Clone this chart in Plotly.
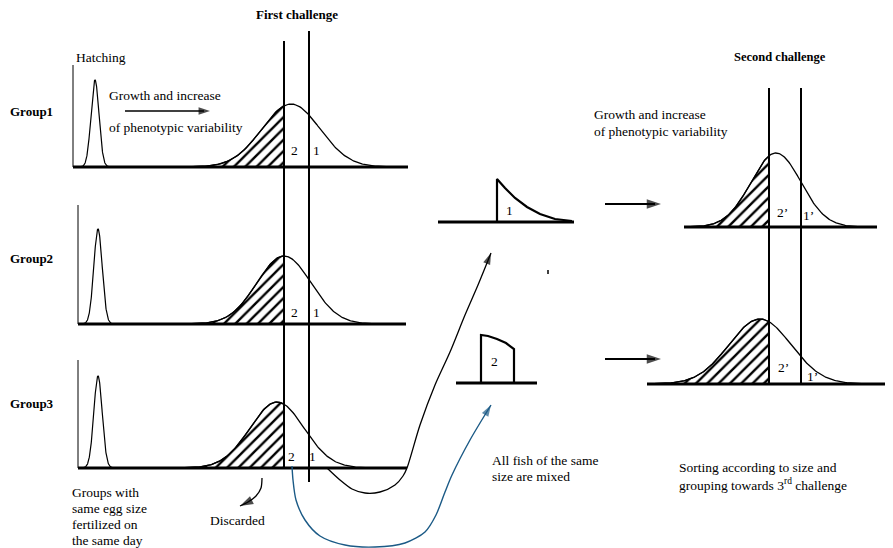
import numpy as np
import plotly.graph_objects as go

W, H = 893, 548
FONT = "Liberation Serif, Times New Roman, serif"
PAGE_OFFSET = 8  # browser body margin

# ---- panel data (left: three groups) ----
group_names = ["Group1", "Group2", "Group3"]
group_label_y = [111, 258, 403]
axis_x = [73, 78, 78]
axis_top = [65, 205, 360]
baseline_y = [167, 324, 468]
baseline_end = [408, 406, 407]
hatch_center = [95, 98, 98]
hatch_peak = [80, 229, 376]
hatch_sigma = [4.0, 4.2, 4.2]
main_center = [291, 284, 277]
main_peak = [104, 256, 402]
main_sigma = [29, 27, 27]
cut1_x = 284
cut2_x = 309
label2_pos = [(294, 150), (294, 312), (291, 456)]
label1_pos = [(316, 150), (316, 312), (312, 456)]

# ---- right panels (second challenge) ----
r_base_y = [227, 384]
r_base_x0 = [684, 647]
r_base_x1 = [877, 893]
r_center = [776, 760]
r_peak = [153, 319]
r_sigma = [25, 31]
r_cut1 = 769
r_cut2 = 801
r_lab2 = [(782, 212), (783, 367)]
r_lab1 = [(808, 215), (812, 376)]

# ---- middle sorted shapes ----
s1_base = (438, 574, 222)
s1_x = [497, 497, 505, 515, 527, 540, 555, 572]
s1_y = [222, 179, 188, 198, 207, 214, 219, 221]
s2_base = (456, 537, 383)
s2_x = [481, 481, 488, 497, 506, 514, 514]
s2_y = [383, 335, 336, 339, 343, 349, 383]

# ---- connecting arrows ----
black_x = [327, 340, 352, 365, 380, 395, 403, 407, 420, 435, 450, 465, 478, 491]
black_y = [468, 480, 489, 493, 492, 485, 476, 468, 425, 385, 352, 315, 285, 253]
blue_x = [292, 293, 296, 305, 320, 345, 375, 405, 425, 436, 445, 452, 470, 491]
blue_y = [466, 480, 500, 520, 536, 545, 547, 543, 532, 515, 492, 475, 440, 405]
disc_x = [262, 261, 256, 248, 240]
disc_y = [478, 488, 496, 502, 506]
growth_arrow = (125, 210, 111)
sort_arrows = [(605, 661, 204), (605, 661, 359)]

fig = go.Figure()


def line(xs, ys, w=1.2, color="black", smooth=False):
    ln = dict(color=color, width=w)
    if smooth:
        ln.update(shape="spline", smoothing=0.8)
    fig.add_trace(go.Scatter(x=list(xs), y=list(ys), mode="lines",
                             line=ln, hoverinfo="skip", showlegend=False))


def gauss(c, peak, base, s, n=200):
    xs = np.linspace(c - 3.6 * s, c + 3.6 * s, n)
    ys = base - (base - peak) * np.exp(-((xs - c) ** 2) / (2 * s * s))
    return xs, ys


def hatch(c, peak, base, s, cut):
    xs = np.linspace(c - 3.6 * s, cut, 150)
    ys = base - (base - peak) * np.exp(-((xs - c) ** 2) / (2 * s * s))
    px = list(xs) + [cut, xs[0]]
    py = list(ys) + [base, base]
    fig.add_trace(go.Scatter(x=px, y=py, mode="lines", fill="toself",
                             fillcolor="white",
                             fillpattern=dict(shape="/", fgcolor="black", bgcolor="white",
                                              size=8, solidity=0.3, fgopacity=1),
                             line=dict(color="black", width=1.3), hoverinfo="skip",
                             showlegend=False))


def arrowhead(xs, ys, color="black", size=11):
    fig.add_trace(go.Scatter(x=[xs[-2], xs[-1]], y=[ys[-2], ys[-1]], mode="markers",
                             marker=dict(symbol="arrow", angleref="previous",
                                         size=[0, size], color=color,
                                         line=dict(width=0)),
                             hoverinfo="skip", showlegend=False))


def straight_arrow(x0, x1, y, w=1.6, size=12):
    xs = [x0, x1 - 6, x1]
    ys = [y, y, y]
    line(xs[:2], ys[:2], w)
    arrowhead(xs[1:], ys[1:], size=size)


# left groups
for i in range(3):
    b = baseline_y[i]
    hatch(main_center[i], main_peak[i], b, main_sigma[i], cut1_x)
    gx, gy = gauss(main_center[i], main_peak[i], b, main_sigma[i])
    line(gx, gy, 1.3)
    hx, hy = gauss(hatch_center[i], hatch_peak[i], b, hatch_sigma[i])
    line(hx, hy, 1.2)
    line([axis_x[i], axis_x[i]], [axis_top[i], b], 1.0)
    line([axis_x[i], baseline_end[i]], [b, b], 2.8)

# first challenge cut lines
line([cut1_x, cut1_x], [41, baseline_y[2]], 2.0)
line([cut2_x, cut2_x], [31, 482], 2.0)

# right panels
for j in range(2):
    b = r_base_y[j]
    hatch(r_center[j], r_peak[j], b, r_sigma[j], r_cut1)
    gx, gy = gauss(r_center[j], r_peak[j], b, r_sigma[j])
    line(gx, gy, 1.3)
    line([r_base_x0[j], r_base_x1[j]], [b, b], 2.8)
line([r_cut1, r_cut1], [88, 384], 2.0)
line([r_cut2, r_cut2], [88, 384], 2.0)

# middle shapes
line([s1_base[0], s1_base[1]], [s1_base[2], s1_base[2]], 3.0)
line(s1_x, s1_y, 2.2)
line([s2_base[0], s2_base[1]], [s2_base[2], s2_base[2]], 3.0)
line(s2_x, s2_y, 2.2)
line([548, 548], [270, 274], 1.5)

# connecting curves
line(black_x, black_y, 1.3, smooth=True)
arrowhead(black_x, black_y, size=12)
line(blue_x, blue_y, 1.4, "#1b5a86", smooth=True)
arrowhead(blue_x, blue_y, "#1b5a86", size=12)
line(disc_x, disc_y, 1.3, smooth=True)
arrowhead(disc_x, disc_y, size=14)
straight_arrow(*growth_arrow, w=1.3, size=12)
for a in sort_arrows:
    straight_arrow(*a, w=2.0, size=15)

annotations = []


def text(x, y, s, size=13.5, bold=False, anchor="left"):
    annotations.append(dict(x=x, y=y, text=f"<b>{s}</b>" if bold else s, showarrow=False,
                            xanchor=anchor, yanchor="middle",
                            font=dict(family=FONT, size=size, color="black")))


text(297, 14, "First challenge", 13, True, "center")
text(780, 57, "Second challenge", 12.5, True, "center")
for name, gy in zip(group_names, group_label_y):
    text(8, gy, name, 13, True)
text(74, 57, "Hatching")
text(107, 95, "Growth and increase")
text(107, 127, "of phenotypic variability")
for i in range(3):
    text(label2_pos[i][0], label2_pos[i][1], "2", anchor="center")
    text(label1_pos[i][0], label1_pos[i][1], "1", anchor="center")
text(70, 492, "Groups with")
text(70, 508, "same egg size")
text(70, 524, "fertilized on")
text(70, 540, "the same day")
text(208, 520, "Discarded")
text(509, 210, "1", anchor="center")
text(494, 361, "2", anchor="center")
text(490, 460, "All fish of the same")
text(490, 476, "size are mixed")
text(592, 114, "Growth and increase")
text(592, 131, "of phenotypic variability")
for j in range(2):
    text(r_lab2[j][0], r_lab2[j][1], "2’", anchor="center")
    text(r_lab1[j][0], r_lab1[j][1], "1’", anchor="center")
text(677, 467, "Sorting according to size and")
text(677, 484, "grouping towards 3<sup>rd</sup> challenge")

fig.update_layout(
    width=W, height=H, margin=dict(l=0, r=0, t=0, b=0),
    paper_bgcolor="white", plot_bgcolor="white",
    xaxis=dict(range=[PAGE_OFFSET, W + PAGE_OFFSET], visible=False, fixedrange=True),
    yaxis=dict(range=[H + PAGE_OFFSET, PAGE_OFFSET], visible=False, fixedrange=True),
    annotations=annotations, showlegend=False,
)
fig.write_html("out.html")
